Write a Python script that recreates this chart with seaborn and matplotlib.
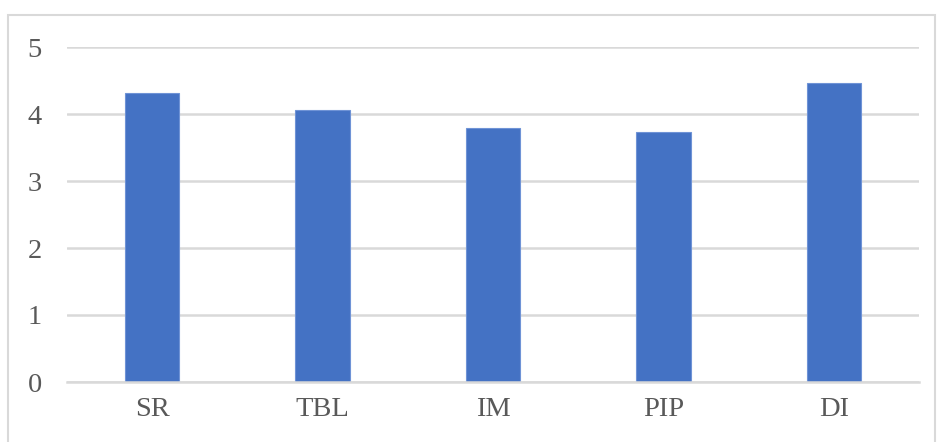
import matplotlib.pyplot as plt
import seaborn as sns
import pandas as pd
from matplotlib.patches import Rectangle

# 데이터
categories = ["SR", "TBL", "IM", "PIP", "DI"]
values = [4.31, 4.06, 3.79, 3.73, 4.46]

df = pd.DataFrame({"cat": categories, "val": values})

sns.set_style("white")
plt.rcParams['font.family'] = ['Liberation Serif', 'DejaVu Serif']

fig = plt.figure(figsize=(9.39, 4.42), dpi=100)
ax = fig.add_axes([67 / 939, (442 - 382) / 442, (919 - 67) / 939, (382 - 47) / 442])

# 바깥 테두리
fig.patches.append(Rectangle((8 / 939, -0.01), 927 / 939, (442 - 15) / 442 + 0.01,
                             transform=fig.transFigure, fill=False,
                             edgecolor='#d9d9d9', linewidth=1.5))

sns.barplot(data=df, x="cat", y="val", color="#4472c4", width=0.32,
            saturation=1, edgecolor='#6f93d6', linewidth=0.8, ax=ax)

ax.set_ylim(0, 5)
ax.set_yticks([0, 1, 2, 3, 4, 5])
ax.yaxis.grid(True, color='#d9d9d9', linewidth=1.8)
ax.set_axisbelow(True)
for s in ['top', 'right', 'left']:
    ax.spines[s].set_visible(False)
ax.spines['bottom'].set_color('#d9d9d9')
ax.spines['bottom'].set_linewidth(1.8)
ax.set_xlabel("")
ax.set_ylabel("")
ax.tick_params(axis='both', length=0, labelsize=20.5, colors='#595959')
ax.tick_params(axis='y', pad=18)
ax.tick_params(axis='x', pad=11)

plt.savefig("out.png", dpi=100)
